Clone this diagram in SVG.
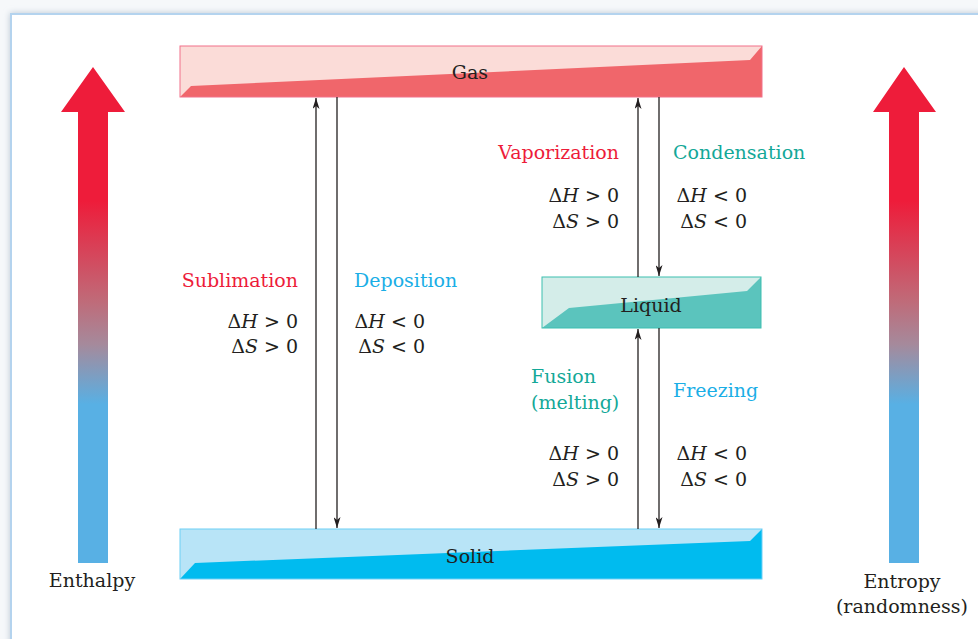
<svg xmlns="http://www.w3.org/2000/svg" width="978" height="639" viewBox="0 0 978 639">
<style>
text{font-family:"DejaVu Serif","Liberation Serif",serif;font-size:19px;fill:#231f20}
.red{fill:#ed1c3a}
.cyan{fill:#1aaee6}
.teal{fill:#14a898}
.m{text-anchor:end}
.c{text-anchor:middle}
.conn line{stroke:#231f20;stroke-width:1.3;fill:none}
</style>
<defs>
<filter id="sh" x="-5%" y="-5%" width="110%" height="110%"><feGaussianBlur stdDeviation="3"/></filter>
<linearGradient id="grad" gradientUnits="userSpaceOnUse" x1="0" y1="67" x2="0" y2="563">
<stop offset="0" stop-color="#ee1c3a"/>
<stop offset="0.27" stop-color="#ee1c3a"/>
<stop offset="0.47" stop-color="#c06a78"/>
<stop offset="0.56" stop-color="#a58a9c"/>
<stop offset="0.68" stop-color="#58b0e4"/>
<stop offset="1" stop-color="#58b0e4"/>
</linearGradient>
<marker id="ah" viewBox="0 0 11 7" refX="11" refY="3.5" markerWidth="11" markerHeight="7" markerUnits="userSpaceOnUse" orient="auto">
<path d="M0,0 L11,3.5 L0,7 L3,3.5 z" fill="#231f20"/>
</marker>
</defs>
<rect x="0" y="0" width="978" height="639" fill="#f6f8fa"/>
<rect x="10" y="13" width="980" height="640" fill="#b9c6d3" filter="url(#sh)"/>
<rect x="11" y="14" width="980" height="640" fill="#ffffff" stroke="#b4d3ee" stroke-width="2"/>

<g id="enthalpy">
<path d="M93,67 L125,112 L108,112 L108,563 L78,563 L78,112 L61,112 Z" fill="url(#grad)"/>
<text class="c" x="92" y="587">Enthalpy</text>
</g>
<g id="entropy">
<path d="M904,67 L936,112 L919,112 L919,563 L889,563 L889,112 L873,112 Z" fill="url(#grad)"/>
<text class="c" x="902" y="588">Entropy</text>
<text class="c" x="902" y="613">(randomness)</text>
</g>

<g id="gas">
<rect x="180" y="46" width="582" height="51" fill="#fbdcd8"/>
<path d="M180,97 L191,86 L750,60 L762,46 L762,97 Z" fill="#f0666b"/>
<rect x="180" y="46" width="582" height="51" fill="none" stroke="#f2708a" stroke-width="1"/>
<text class="c" x="470" y="79">Gas</text>
</g>

<g id="liquid">
<rect x="542" y="277" width="219" height="51" fill="#d4ede9"/>
<path d="M542,328 L569,308 L747,291 L761,277 L761,328 Z" fill="#5bc4bd"/>
<rect x="542" y="277" width="219" height="51" fill="none" stroke="#3cbfb0" stroke-width="1"/>
<text class="c" x="651" y="312">Liquid</text>
</g>

<g id="solid">
<rect x="180" y="529" width="582" height="50" fill="#b8e4f7"/>
<path d="M180,579 L195,563 L750,541 L762,529 L762,579 Z" fill="#00bbef"/>
<rect x="180" y="529" width="582" height="50" fill="none" stroke="#6dcff6" stroke-width="1"/>
<text class="c" x="470" y="563">Solid</text>
</g>

<g id="connectors" class="conn">
<line x1="316" y1="529" x2="316" y2="98" marker-end="url(#ah)"/>
<line x1="337" y1="97" x2="337" y2="528" marker-end="url(#ah)"/>
<line x1="638" y1="277" x2="638" y2="98" marker-end="url(#ah)"/>
<line x1="659" y1="97" x2="659" y2="276" marker-end="url(#ah)"/>
<line x1="638" y1="529" x2="638" y2="329" marker-end="url(#ah)"/>
<line x1="659" y1="328" x2="659" y2="528" marker-end="url(#ah)"/>
</g>

<g id="labels">
<text class="red m" x="298" y="287">Sublimation</text>
<text class="m" x="298" y="328">Δ<tspan font-style="italic">H</tspan> &gt; 0</text>
<text class="m" x="298" y="353">Δ<tspan font-style="italic">S</tspan> &gt; 0</text>
<text class="cyan" x="354" y="287">Deposition</text>
<text class="m" x="425" y="328">Δ<tspan font-style="italic">H</tspan> &lt; 0</text>
<text class="m" x="425" y="353">Δ<tspan font-style="italic">S</tspan> &lt; 0</text>

<text class="red m" x="619" y="159">Vaporization</text>
<text class="m" x="619" y="202">Δ<tspan font-style="italic">H</tspan> &gt; 0</text>
<text class="m" x="619" y="228">Δ<tspan font-style="italic">S</tspan> &gt; 0</text>
<text class="teal" x="673" y="159">Condensation</text>
<text class="m" x="747" y="202">Δ<tspan font-style="italic">H</tspan> &lt; 0</text>
<text class="m" x="747" y="228">Δ<tspan font-style="italic">S</tspan> &lt; 0</text>

<text class="teal" x="531" y="383">Fusion</text>
<text class="teal" x="531" y="409">(melting)</text>
<text class="m" x="619" y="460">Δ<tspan font-style="italic">H</tspan> &gt; 0</text>
<text class="m" x="619" y="486">Δ<tspan font-style="italic">S</tspan> &gt; 0</text>
<text class="cyan" x="673" y="397">Freezing</text>
<text class="m" x="747" y="460">Δ<tspan font-style="italic">H</tspan> &lt; 0</text>
<text class="m" x="747" y="486">Δ<tspan font-style="italic">S</tspan> &lt; 0</text>
</g>
</svg>
